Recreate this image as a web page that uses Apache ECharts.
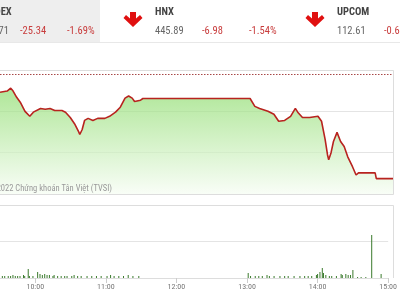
<!DOCTYPE html>
<html><head><meta charset="utf-8">
<script src="https://cdn.jsdelivr.net/npm/echarts@6/dist/echarts.min.js"></script>
<style>html,body{margin:0;padding:0;background:#fff}#c{width:400px;height:300px}</style>
</head><body><div id="c"></div>
<script>
const FONT = '"Liberation Sans Narrow","Roboto Condensed",Roboto,"Liberation Sans",Arial,sans-serif';

const indexNames = ['VNINDEX', 'HNX', 'UPCOM'];
const indexValues = ['1,474.71', '445.89', '112.61'];
const indexChanges = ['-25.34', '-6.98', '-0.69'];
const indexPercents = ['-1.69%', '-1.54%', '-0.61%'];

const refPrice = 1500.05;
const copyrightText = '© 2022 Chứng khoán Tân Việt (TVSI)';
const timeTicks = ['10:00', '11:00', '12:00', '13:00', '14:00', '15:00'];

const priceTimes = ['09:30','09:36','09:39','09:41','09:44','09:47','09:51','09:55','09:58','10:04','10:08','10:12','10:16','10:22','10:25','10:29','10:33','10:36','10:37','10:39','10:41','10:44','10:48','10:52','10:58','11:02','11:07','11:11','11:15','11:18','11:21','11:23','11:28','11:30','13:00','13:04','13:08','13:15','13:20','13:24','13:29','13:34','13:38','13:40','13:44','13:50','13:57','14:00','14:03','14:05','14:06','14:08','14:10','14:13','14:16','14:19','14:22','14:26','14:29','14:31','14:45','14:46','15:00'];
const priceValues = [1495.6,1495.9,1496.6,1495.9,1494.4,1493.2,1491.0,1489.8,1490.8,1491.7,1491.5,1491.7,1491.2,1491.2,1490.8,1489.5,1487.8,1486.1,1485.4,1486.6,1488.8,1489.3,1488.8,1489.3,1489.3,1489.8,1490.8,1492.0,1494.2,1494.7,1494.2,1493.4,1493.7,1494.1,1494.1,1492.2,1491.7,1491.0,1490.3,1488.6,1488.8,1489.8,1491.7,1490.8,1489.5,1489.5,1489.8,1488.6,1484.2,1480.5,1479.3,1481.0,1483.7,1485.9,1483.7,1482.5,1480.0,1477.6,1475.6,1476.1,1476.1,1474.71,1474.71];

const volumeTimes = ['09:32','09:34','09:37','09:39','09:41','09:43','09:45','09:47','09:50','09:51','09:54','09:55','09:58','10:02','10:04','10:06','10:08','10:10','10:12','10:15','10:16','10:19','10:22','10:25','10:27','10:31','10:33','10:36','10:39','10:44','10:48','10:52','10:56','11:01','11:04','11:07','11:11','11:15','11:19','11:23','11:28','13:01','13:03','13:07','13:10','13:13','13:17','13:19','13:23','13:28','13:32','13:35','13:40','13:45','13:49','13:52','13:55','13:59','14:00','14:02','14:04','14:05','14:07','14:10','14:12','14:16','14:20','14:21','14:24','14:26','14:28','14:30','14:34','14:37','14:41','14:46','14:54'];
const volumeValues = [2.2,2.2,2.2,2.2,3.3,2.2,2.2,2.2,3.3,2.2,9.9,2.2,2.2,6.6,4.4,3.3,4.4,3.3,3.3,2.2,3.3,2.2,2.2,2.2,2.2,2.2,3.3,2.2,2.2,2.2,2.2,2.2,2.2,2.2,3.3,2.2,2.2,2.2,3.3,2.2,2.2,5.5,2.2,2.2,2.2,2.2,3.3,2.2,2.2,2.2,2.2,2.2,2.2,2.2,2.2,2.2,2.2,3.3,4.4,6.6,11,5.5,3.3,2.2,2.2,2.2,4.4,3.3,4.4,3.3,3.3,8.8,1.1,1.1,1.1,47,4.4];

function toMin(s) { const p = s.split(':'); return (+p[0]) * 60 + (+p[1]); }
function fmt(m) { const h = Math.floor(m / 60), mm = m % 60; return (h < 10 ? '0' : '') + h + ':' + (mm < 10 ? '0' : '') + mm; }

const priceData = priceTimes.map((t, i) => [toMin(t), priceValues[i]]);
const volumeData = volumeTimes.map((t, i) => [toMin(t), volumeValues[i]]);
const tickMins = timeTicks.map(toMin);

const chart = echarts.init(document.getElementById('c'), null, { renderer: 'canvas' });

const BORDER = '#dddddd';
const graphics = [
  { type: 'rect', shape: { x: 0, y: 0, width: 100, height: 42 }, style: { fill: '#eeeeee' }, z: 0 },
  { type: 'rect', shape: { x: 0, y: 42, width: 400, height: 1 }, style: { fill: '#e8e8e8' } },
  { type: 'polyline', shape: { points: [[0, 70.5], [393.5, 70.5], [393.5, 194.5], [0, 194.5]] }, style: { stroke: BORDER, lineWidth: 1, fill: null }, z: 1 },
  { type: 'polyline', shape: { points: [[0, 205.5], [393.5, 205.5], [393.5, 278]] }, style: { stroke: BORDER, lineWidth: 1, fill: null }, z: 1 }
];
const blockX = [-27, 155, 337];
blockX.forEach((bx, i) => {
  graphics.push({ type: 'text', x: bx, y: 12, style: { text: indexNames[i], font: 'bold 10.5px ' + FONT, fill: '#444', textVerticalAlign: 'middle' } });
  graphics.push({ type: 'text', x: bx, y: 31, style: { text: indexValues[i], font: '10.5px ' + FONT, fill: '#666', textVerticalAlign: 'middle' } });
  graphics.push({ type: 'text', x: bx + 47, y: 31, style: { text: indexChanges[i], font: '10.5px ' + FONT, fill: '#c83c3c', textVerticalAlign: 'middle' } });
  graphics.push({ type: 'text', x: bx + 94, y: 31, style: { text: indexPercents[i], font: '10.5px ' + FONT, fill: '#c83c3c', textVerticalAlign: 'middle' } });
  if (i > 0) {
    const ax = bx - 22;
    graphics.push({ type: 'polygon', shape: { points: [[ax - 3, 12], [ax + 3, 12], [ax + 3, 18.5], [ax + 7, 15], [ax + 9.5, 18], [ax, 27], [ax - 9.5, 18], [ax - 7, 15], [ax - 3, 18.5]] }, style: { fill: '#e01010' } });
  }
});
graphics.push({ type: 'text', x: -12, y: 189, style: { text: copyrightText, font: '8.5px ' + FONT, fill: '#999', textVerticalAlign: 'middle' }, z: 10 });

chart.setOption({
  animation: false,
  backgroundColor: '#fff',
  graphic: graphics,
  grid: [
    { left: 0, right: 7, top: 70, height: 124, show: false },
    { left: 0, right: 7, top: 205, height: 73, show: false }
  ],
  xAxis: [
    { type: 'value', gridIndex: 0, min: 570, max: 900, interval: 30, axisLine: { show: false }, axisTick: { show: false }, axisLabel: { show: false }, splitLine: { show: false } },
    { type: 'value', gridIndex: 1, min: 570, max: 900, interval: 30,
      axisLine: { show: true, lineStyle: { color: BORDER } },
      axisTick: { show: true, length: 5, lineStyle: { color: '#cccccc' }, customValues: tickMins },
      axisLabel: { show: true, color: '#777', fontFamily: FONT, fontSize: 8, margin: 5, customValues: tickMins, formatter: v => fmt(v) },
      splitLine: { show: false } }
  ],
  yAxis: [
    { type: 'value', gridIndex: 0, min: 1471, max: 1501, interval: 10, axisLine: { show: false }, axisTick: { show: false }, axisLabel: { show: false }, splitLine: { show: true, lineStyle: { color: '#e4e4e4' } } },
    { type: 'value', gridIndex: 1, min: 0, max: 80, interval: 40, axisLine: { show: false }, axisTick: { show: false }, axisLabel: { show: false }, splitLine: { show: true, lineStyle: { color: '#e4e4e4' } } }
  ],
  series: [
    { type: 'line', xAxisIndex: 0, yAxisIndex: 0, data: priceData, showSymbol: false, z: 3,
      lineStyle: { color: '#b8231f', width: 1.6 },
      areaStyle: { origin: 'start', color: new echarts.graphic.LinearGradient(0, 0, 0, 1, [{ offset: 0, color: '#8ddc6c' }, { offset: 1, color: '#f6fdf3' }]) },
      markLine: { silent: true, symbol: 'none', label: { show: false }, data: [{ yAxis: refPrice }], lineStyle: { color: '#a84848', type: [1.5, 1.5], width: 1 } }
    },
    { type: 'bar', xAxisIndex: 1, yAxisIndex: 1, data: volumeData, barWidth: 1, itemStyle: { color: '#3a7a2c' } }
  ]
});
</script></body></html>
